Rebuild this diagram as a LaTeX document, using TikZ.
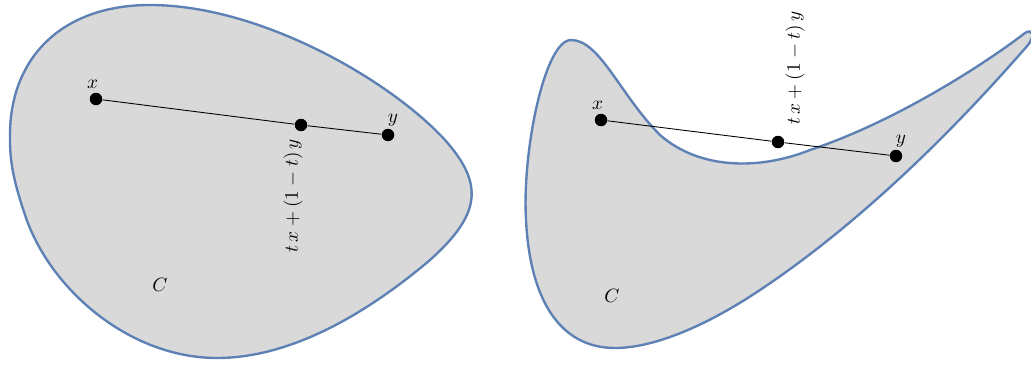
\documentclass[tikz,border=0pt]{standalone}
\usepackage{amsmath}
\usepackage{tikz}
\usetikzlibrary{positioning}
\definecolor{shade}{HTML}{D9D9D9}
\definecolor{rim}{HTML}{5E81B5}

\begin{document}
\begin{tikzpicture}[
  x=0.02cm, y=-0.02cm,
  font=\fontsize{10.8}{13}\selectfont,
  blob/.style={fill=shade, draw=rim, line width=1.35pt},
  dot/.style={circle, fill=black, inner sep=0pt, minimum size=0.25cm},
  seg/.style={line width=0.5pt},
  lbl/.style={inner sep=1pt},
  combo/.style={inner sep=1pt, rotate=90},
]
\useasboundingbox (0,0) rectangle (1031,365);

% convex set
\draw[blob] (10,140) .. controls (8,60) and (60,5) .. (150,5)
  .. controls (260,5) and (390,80) .. (445,140)
  .. controls (485,185) and (480,215) .. (430,260)
  .. controls (365,315) and (290,358) .. (217,358)
  .. controls (130,358) and (50,290) .. (25,215)
  .. controls (15,185) and (10,165) .. (10,140) -- cycle;

\node[dot] (x1) at (96,99) {};
\node[dot] (m1) at (301,125) {};
\node[dot] (y1) at (388,135) {};
\draw[seg] (x1) -- (m1) -- (y1);
\node[lbl, above left=2pt and -5pt of x1] {$x$};
\node[lbl, above right=1pt and -4pt of y1] {$y$};
\node[combo, anchor=east] at ([shift={(-8,12)}]m1.center) {$t\,x+(1-t)\,y$};
\node[lbl] (c1) at (160,285) {$C$};

% non-convex set
\draw[blob] (571,40) .. controls (600,40) and (620,95) .. (660,135)
  .. controls (700,170) and (760,170) .. (810,150)
  .. controls (900,120) and (990,60) .. (1025,33)
  .. controls (1033,28) and (1035,36) .. (1028,45)
  .. controls (980,100) and (880,210) .. (760,290)
  .. controls (700,330) and (650,348) .. (615,348)
  .. controls (560,348) and (530,300) .. (526,220)
  .. controls (522,150) and (545,40) .. (571,40) -- cycle;

\node[dot] (x2) at (601,120) {};
\node[dot] (m2) at (778,142) {};
\node[dot] (y2) at (896,156) {};
\draw[seg] (x2) -- (m2) -- (y2);
\node[lbl, above left=2pt and -5pt of x2] {$x$};
\node[lbl, above right=1pt and -4pt of y2] {$y$};
\node[combo, anchor=west] at ([shift={(17,-15)}]m2.center) {$t\,x+(1-t)\,y$};
\node[lbl] (c2) at (612,296) {$C$};

\end{tikzpicture}
\end{document}
